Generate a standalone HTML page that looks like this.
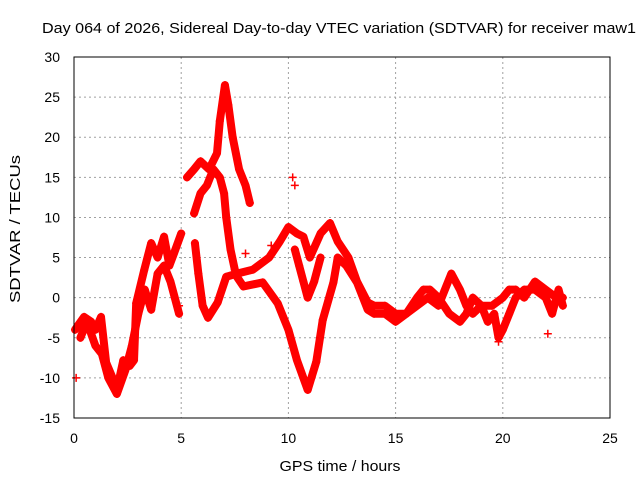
<!DOCTYPE html>
<html><head><meta charset="utf-8"><style>
body{margin:0;background:#fff;}
svg{display:block;font-family:"Liberation Sans",sans-serif;}
</style></head><body>
<svg id="chart" width="640" height="480">
<rect width="640" height="480" fill="#fff"/>
<text x="339" y="33" font-size="15" text-anchor="middle" textLength="594" lengthAdjust="spacingAndGlyphs">Day 064 of 2026, Sidereal Day-to-day VTEC variation (SDTVAR) for receiver maw1</text>
<text x="340" y="471" font-size="15" text-anchor="middle" textLength="121" lengthAdjust="spacingAndGlyphs">GPS time / hours</text>
<text x="20" y="229" font-size="15" text-anchor="middle" textLength="148" lengthAdjust="spacingAndGlyphs" transform="rotate(-90 20 229)">SDTVAR / TECUs</text>
<g id="grid"></g><g id="ticks"></g><g id="marks"></g>
<rect x="74" y="57" width="536" height="361" fill="none" stroke="#000"/>
</svg>
<script>
const xTicks=[0,5,10,15,20,25];
const yTicks=[-15,-10,-5,0,5,10,15,20,25,30];
const trackA=[[0.05,-4],[0.15,-3.6],[0.47,-2.4],[0.8,-3],[1.0,-4],[1.26,-2.4],[1.5,-8.1],[1.8,-10],[2.0,-11.5],[2.3,-7.8],[2.6,-8.5],[2.8,-7.8],[2.9,-0.7],[3.27,3.4],[3.6,6.8],[3.9,5],[4.2,7.6],[4.45,4],[4.66,5.5],[5.0,8]];
const trackA2=[[0.3,-5],[0.6,-3],[1,-6],[1.3,-7],[1.6,-10],[2,-12],[2.4,-9],[2.7,-6],[3.0,-2],[3.3,1],[3.6,-1.5],[3.9,3],[4.2,4],[4.5,2],[4.9,-2]];
const trackB=[[5.27,15],[5.6,16],[5.9,17],[6.3,16],[6.67,18],[6.8,22],[7.04,26.5],[7.2,24],[7.4,20],[7.7,16],[8.0,14],[8.2,11.8]];
const trackB2=[[5.6,10.5],[5.9,13],[6.2,14],[6.5,16],[6.8,15],[7.0,13],[7.1,10],[7.3,6],[7.5,3.5]];
const trackC=[[5.64,6.8],[5.8,3],[6.0,-1],[6.25,-2.5],[6.7,-0.6],[7.1,2.6],[7.6,3],[8.35,3.5],[9.1,5],[9.6,7],[10,8.8],[10.4,8],[10.7,7.6],[11.0,5],[11.5,8],[11.94,9.3],[12.3,7],[12.8,5],[13.2,2],[13.7,-0.6],[14,-1],[14.5,-1],[15,-2],[15.5,-2],[16,-1],[16.5,0],[17,-1],[17.3,1],[17.6,3],[18,1],[18.3,-1],[18.6,-2],[19,-1],[19.5,-1],[20,0],[20.3,1],[20.6,1],[21,0],[21.5,2],[22,1],[22.5,0],[22.8,0]];
const trackD=[[7.5,3],[7.9,1.4],[8.8,1.9],[9.5,-0.7],[10,-4],[10.4,-7.8],[10.9,-11.5],[11.3,-8],[11.6,-2.8],[12.1,1.9],[12.3,5],[12.7,4],[13.2,1.9],[13.7,-1.5],[14,-2],[14.5,-2],[15,-3],[15.5,-2],[16,0],[16.3,1],[16.6,1],[17,0],[17.5,-2],[18,-3],[18.3,-2],[18.6,0],[19,-1],[19.3,-3],[19.6,-2],[19.8,-5],[20,-4],[20.3,-2],[20.6,0],[21,1],[21.5,1],[22,0],[22.3,-2],[22.6,1],[22.8,-1]];
const trackE=[[10.3,6],[10.5,4],[10.7,2],[10.9,0],[11.2,2],[11.5,5]];
const outliers=[[10.2,15],[10.3,14],[22.1,-4.5],[19.8,-5.5],[0.1,-10],[4.9,-1],[8.0,5.5],[9.2,6.5]];
const tracks=[trackA,trackA2,trackB,trackB2,trackC,trackD,trackE];
const NS="http://www.w3.org/2000/svg";
const X=v=>74+v*(536/25), Y=v=>418-(v+15)*(361/45);
function mk(t,a,p){const e=document.createElementNS(NS,t);for(const k in a)e.setAttribute(k,a[k]);p.appendChild(e);return e;}
const g=document.getElementById('grid'),tk=document.getElementById('ticks'),m=document.getElementById('marks');
xTicks.forEach(v=>{
 if(v>0&&v<25){const l=mk('line',{x1:X(v),x2:X(v),y1:57,y2:418,stroke:'#a0a0a0','stroke-dasharray':'2,3'},g);
 
 }
 const t=mk('text',{x:X(v),y:443,'font-size':14,'text-anchor':'middle'},tk);t.textContent=v;
 
 
});
yTicks.forEach(v=>{
 if(v>-15&&v<30){const l=mk('line',{x1:74,x2:610,y1:Y(v),y2:Y(v),stroke:'#a0a0a0','stroke-dasharray':'2,3'},g);
 
 }
 const t=mk('text',{x:60,y:Y(v)+5,'font-size':14,'text-anchor':'end'},tk);t.textContent=v;
 
 
});
tracks.forEach(tr=>{
 const pl=mk('polyline',{points:tr.map(p=>X(p[0])+','+Y(p[1])).join(' '),fill:'none',stroke:'#f00','stroke-width':8,'stroke-linejoin':'round','stroke-linecap':'round'},m);
 
 
});
tracks.concat([outliers]).forEach(tr=>tr.forEach(p=>{
 const x=X(p[0]),y=Y(p[1]);
 const pt=mk('path',{d:`M${x-4},${y}h8M${x},${y-4}v8`,stroke:'#f00','stroke-width':1.5},m);
 
 
}));
</script>
</body></html>
